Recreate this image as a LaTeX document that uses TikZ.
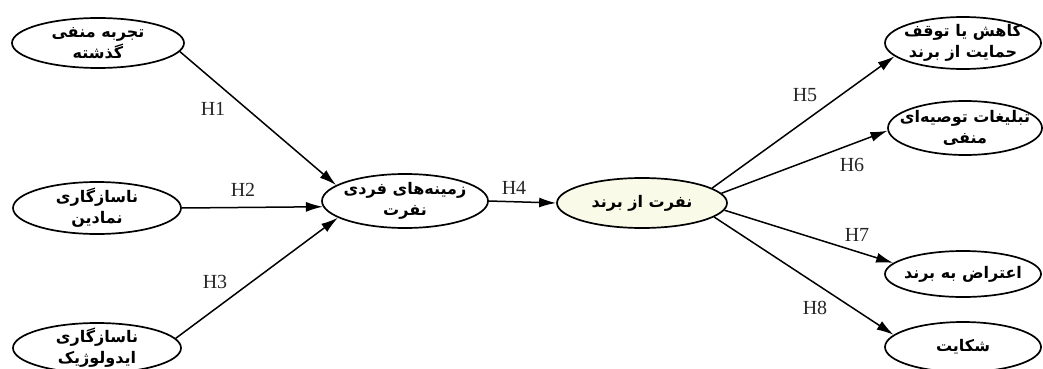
\documentclass[tikz,border=0pt]{standalone}
\usepackage{fontspec}
\setmainfont{Liberation Serif}
\newfontfamily\fafont[Script=Arabic]{DejaVu Sans}
\TeXXeTstate=1
\usetikzlibrary{shapes.geometric,arrows.meta}
\begin{document}
\begin{tikzpicture}[x=1pt,y=-1pt,
  ell/.style={ellipse, draw, line width=1.7pt, inner sep=0pt},
  lab/.style={align=center, inner sep=0pt,
    font=\fafont\bfseries\fontsize{16}{21}\selectfont},
  conn/.style={-{Latex[length=17pt,width=10pt]}, line width=1.5pt},
  hlab/.style={font=\fontsize{20}{20}\selectfont, text=black!85}]
\useasboundingbox (0,0) rectangle (1043,369);
\node[ell, minimum width=172pt, minimum height=50pt,
  label={[lab]center:\beginR تجربه منفی\endR\\\beginR گذشته\endR}] (A) at (98,43) {};
\node[ell, minimum width=168pt, minimum height=52pt,
  label={[lab]center:\beginR ناسازگاری\endR\\\beginR نمادین\endR}] (B) at (97,208) {};
\node[ell, minimum width=168pt, minimum height=50pt,
  label={[lab]center:\beginR ناسازگاری\endR\\\beginR ایدولوژیک\endR}] (C) at (97,348) {};
\node[ell, minimum width=166pt, minimum height=54pt,
  label={[lab]center:\beginR زمینه^^^^200cهای فردی\endR\\\beginR نفرت\endR}] (D) at (405,201) {};
\node[ell, fill={rgb,255:red,250;green,250;blue,232}, minimum width=170pt, minimum height=50pt,
  label={[lab]center:\beginR نفرت از برند\endR}] (E) at (642,203) {};
\node[ell, minimum width=156pt, minimum height=52pt,
  label={[lab]center:\beginR کاهش یا توقف\endR\\\beginR حمایت از برند\endR}] (F) at (963,43) {};
\node[ell, minimum width=154pt, minimum height=54pt,
  label={[lab]center:\beginR تبلیغات توصیه^^^^200cای\endR\\\beginR منفی\endR}] (G) at (965,128) {};
\node[ell, minimum width=156pt, minimum height=46pt,
  label={[lab]center:\beginR اعتراض به برند\endR}] (H) at (963,274) {};
\node[ell, minimum width=156pt, minimum height=50pt,
  label={[lab]center:\beginR شکایت\endR}] (I) at (963,347) {};
\draw[conn] (A.-6) -- (D.167);
\draw[conn] (B.east) -- (D.184);
\draw[conn] (C.7) -- (D.194);
\draw[conn] (D.east) -- (E.west);
\draw[conn] (E.12) -- (F.191);
\draw[conn] (E.7) -- (G.182);
\draw[conn] (E.-5) -- (H.171);
\draw[conn] (E.-11) -- (I.170);
\node[hlab] (h1) at (213,109) {H1};
\node[hlab] (h2) at (243,190) {H2};
\node[hlab] (h3) at (215,282) {H3};
\node[hlab] (h4) at (514,188) {H4};
\node[hlab] (h5) at (805,95) {H5};
\node[hlab] (h6) at (852,165) {H6};
\node[hlab] (h7) at (857,235) {H7};
\node[hlab] (h8) at (815,308) {H8};
\end{tikzpicture}
\end{document}
